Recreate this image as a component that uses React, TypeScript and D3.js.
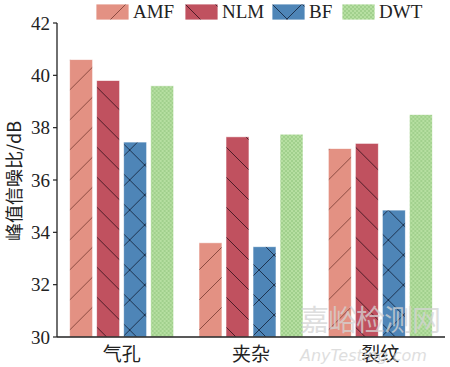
import React from "react";
import * as d3 from "d3";

const categories = ["气孔", "夹杂", "裂纹"];
const seriesNames = ["AMF", "NLM", "BF", "DWT"];
const amfValues = [40.6, 33.6, 37.2];
const nlmValues = [39.8, 37.65, 37.4];
const bfValues = [37.45, 33.45, 34.85];
const dwtValues = [39.6, 37.75, 38.5];
const yTicks = [30, 32, 34, 36, 38, 40, 42];

const seriesValues = [amfValues, nlmValues, bfValues, dwtValues];
const fills = ["#e39183", "#c0515f", "#4e85b7", "#b6dfa1"];
const patternIds = ["hatch-amf", "hatch-nlm", "hatch-bf", "dots-dwt"];

const W = 450;
const H = 367;
const margin = { left: 57, right: 5, top: 23, bottom: 30 };
const serif = "'Liberation Serif', 'Times New Roman', serif";
const cjk = "'Noto Sans CJK SC', sans-serif";

function Patterns() {
  return (
    <defs>
      <pattern id="hatch-amf" patternUnits="userSpaceOnUse" width={30} height={30}>
        <rect width={30} height={30} fill={fills[0]} />
        <path d="M0,30 L30,0 M-5,5 L5,-5 M25,35 L35,25" stroke="#8c4b41" strokeWidth={1} />
      </pattern>
      <pattern id="hatch-nlm" patternUnits="userSpaceOnUse" width={30} height={30}>
        <rect width={30} height={30} fill={fills[1]} />
        <path d="M0,0 L30,30 M-5,25 L5,35 M25,-5 L35,5" stroke="#4e1c27" strokeWidth={1} />
      </pattern>
      <pattern id="hatch-bf" patternUnits="userSpaceOnUse" width={30} height={30}>
        <rect width={30} height={30} fill={fills[2]} />
        <path d="M0,0 L30,30 M0,30 L30,0" stroke="#1d3350" strokeWidth={1} />
      </pattern>
      <pattern id="dots-dwt" patternUnits="userSpaceOnUse" width={4} height={4}>
        <rect width={4} height={4} fill={fills[3]} />
        <circle cx={1} cy={1} r={0.8} fill="#86bd74" />
        <circle cx={3} cy={3} r={0.8} fill="#86bd74" />
      </pattern>
    </defs>
  );
}

export default function App() {
  const x0 = d3.scaleBand<string>().domain(categories).range([margin.left, W - margin.right]).padding(0);
  const x1 = d3.scaleBand<string>().domain(seriesNames).range([0, 104]).paddingInner(0.15).paddingOuter(0);
  const y = d3.scaleLinear().domain([30, 42]).range([H - margin.bottom, margin.top]);

  const legendX = [96, 185, 272, 342];

  return (
    <svg width={W} height={H} style={{ position: "absolute", left: 0, top: 0 }}>
      <Patterns />
      <rect width={W} height={H} fill="#fff" />

      {categories.map((cat, ci) => {
        const cx = (x0(cat) as number) + x0.bandwidth() / 2;
        return (
          <g key={cat} transform={`translate(${cx - 52},0)`}>
            {seriesNames.map((s, si) => {
              const v = seriesValues[si][ci];
              return (
                <rect
                  key={s}
                  x={x1(s)}
                  y={y(v)}
                  width={x1.bandwidth()}
                  height={y(30) - y(v)}
                  fill={`url(#${patternIds[si]})`}
                  stroke="#fff"
                  strokeOpacity={0.7}
                  strokeWidth={0.8}
                />
              );
            })}
            <text x={52} y={H - 6} textAnchor="middle" fontFamily={cjk} fontSize={19} fill="#222">{cat}</text>
          </g>
        );
      })}

      {/* axes */}
      <line x1={margin.left} x2={margin.left} y1={y(42)} y2={y(30)} stroke="#222" strokeWidth={1.3} />
      <line x1={margin.left} x2={W - margin.right} y1={y(30)} y2={y(30)} stroke="#222" strokeWidth={1.3} />
      {yTicks.map(t => (
        <g key={t}>
          <line x1={margin.left - 4} x2={margin.left} y1={y(t)} y2={y(t)} stroke="#222" strokeWidth={1.2} />
          <text x={margin.left - 7} y={y(t)} dy="0.35em" textAnchor="end" fontFamily={serif} fontSize={19} fill="#222">{t}</text>
        </g>
      ))}

      <text
        transform={`translate(21,${181}) rotate(-90)`}
        textAnchor="middle"
        fontFamily={cjk}
        fontSize={18}
        fill="#222"
      >
        峰值信噪比/dB
      </text>

      {/* watermark, drawn over the bars */}
      <g fill="#d4d4d4" opacity={0.75}>
        <text x={300} y={331} fontFamily={cjk} fontSize={29} letterSpacing={-1}>嘉峪检测网</text>
        <text x={300} y={361} fontFamily="'DejaVu Sans', sans-serif" fontStyle="italic" fontSize={16}>AnyTesting.com</text>
      </g>

      {/* legend */}
      {seriesNames.map((s, i) => (
        <g key={s} transform={`translate(${legendX[i]},4)`}>
          <rect width={33} height={16} fill={`url(#${patternIds[i]})`} stroke="#fff" strokeWidth={0.8} />
          <text x={37} y={14} fontFamily={serif} fontSize={19} fill="#222">{s}</text>
        </g>
      ))}
    </svg>
  );
}
